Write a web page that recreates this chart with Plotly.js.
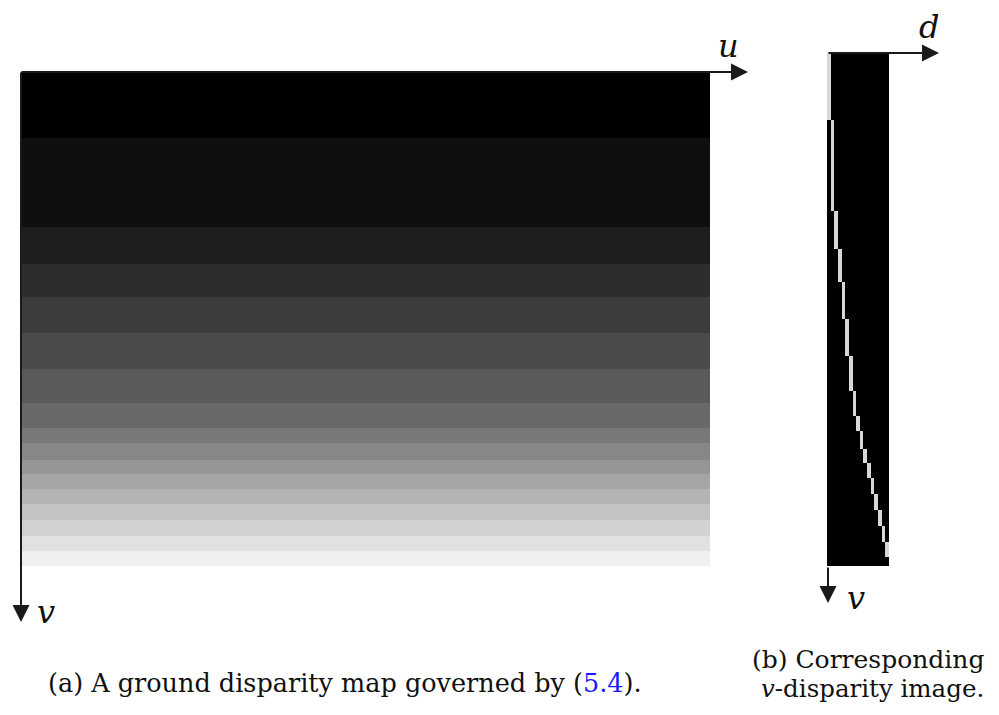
<!DOCTYPE html>
<html>
<head>
<meta charset="utf-8">
<script src="https://cdn.plot.ly/plotly-3.0.1.min.js"></script>
<style>
  html, body { margin: 0; padding: 0; background: #fff; }
  #chart { width: 999px; height: 715px; }
</style>
</head>
<body>
<div id="chart"></div>
<script>
// Ground disparity map: image rows v are split into bands of constant disparity.
// Band edges along v (image rows, top to bottom) and the disparity of each band.
const imageWidth = 689;
const bandEdgesV = [0, 66, 155, 192, 225, 261, 297, 331, 356, 371, 388, 402, 417, 432, 448, 464, 479, 494];
const bandDisparity = [0, 1, 2, 3, 4, 5, 6, 7, 8, 9, 10, 11, 12, 13, 14, 15, 16];
const disparityLevels = [0, 1, 2, 3, 4, 5, 6, 7, 8, 9, 10, 11, 12, 13, 14, 15, 16];

// Disparity map: one column spanning the image width, one row per band.
const mapZ = bandDisparity.map(d => [d]);

// v-disparity: for every row band, count of pixels at each disparity level.
const vdispZ = bandDisparity.map(bd => disparityLevels.map(d => (d === bd ? imageWidth : 0)));

const W = 999, H = 715;
const px = x => x / W;           // page pixel -> paper x
const py = y => 1 - y / H;       // page pixel -> paper y

const ink = '#1a1a1a';
const serif = 'DejaVu Serif';

const traces = [
  {
    type: 'heatmap',
    x: [0, imageWidth],
    y: bandEdgesV,
    z: mapZ,
    zmin: 0, zmax: 16,
    colorscale: [[0, 'rgb(0,0,0)'], [1, 'rgb(240,240,240)']],
    showscale: false,
    xaxis: 'x', yaxis: 'y',
    hoverinfo: 'skip'
  },
  {
    type: 'heatmap',
    x: disparityLevels,
    y: bandEdgesV,
    z: vdispZ,
    zmin: 0, zmax: imageWidth,
    colorscale: [[0, 'rgb(0,0,0)'], [1, 'rgb(215,215,215)']],
    showscale: false,
    xaxis: 'x2', yaxis: 'y2',
    hoverinfo: 'skip'
  }
];

function arrow(tipX, tipY, tailX, tailY) {
  return {
    xref: 'paper', yref: 'paper',
    x: px(tipX), y: py(tipY),
    ax: tailX - tipX, ay: tailY - tipY,
    axref: 'pixel', ayref: 'pixel',
    text: '', showarrow: true,
    arrowhead: 2, arrowsize: 1.7, arrowwidth: 2, arrowcolor: ink,
    standoff: 0, startstandoff: 0
  };
}

function label(text, x, y, size, anchor) {
  return {
    xref: 'paper', yref: 'paper',
    x: px(x), y: py(y),
    xanchor: anchor || 'center', yanchor: 'middle',
    text: text, showarrow: false,
    font: { family: serif, size: size, color: '#111' }
  };
}

const layout = {
  width: W, height: H,
  margin: { l: 0, r: 0, t: 0, b: 0, pad: 0 },
  paper_bgcolor: '#ffffff',
  plot_bgcolor: 'rgba(0,0,0,0)',
  showlegend: false,
  font: { family: serif },
  xaxis: { domain: [px(21), px(710)], range: [0, imageWidth], visible: false, fixedrange: true },
  yaxis: { domain: [py(566), py(72)], range: [494, 0], visible: false, fixedrange: true },
  xaxis2: { domain: [px(827), px(889)], range: [-0.5, 16.5], visible: false, fixedrange: true, anchor: 'y2' },
  yaxis2: { domain: [py(566), py(53)], range: [503, 0], visible: false, fixedrange: true, anchor: 'x2' },
  shapes: [
    { type: 'rect', xref: 'x2 domain', yref: 'y2 domain', x0: 0, x1: 1, y0: 0, y1: 1,
      fillcolor: '#000', line: { width: 0 }, layer: 'below' }
  ],
  annotations: [
    arrow(748, 72, 20, 72),
    arrow(21, 622, 21, 71),
    arrow(939, 53, 827, 53),
    arrow(828, 603, 828, 566),
    label('<i>u</i>', 728, 46, 32),
    label('<i>v</i>', 46, 612, 32),
    label('<i>d</i>', 929, 27, 32),
    label('<i>v</i>', 856, 598, 32),
    label('(a) A ground disparity map governed by (<span style="color:#1a1aff">5.4</span>).', 345, 683, 25.5),
    label('(b) Corresponding', 986, 659, 25, 'right'),
    label('<i>v</i>-disparity image.', 986, 688, 24.5, 'right')
  ]
};

Plotly.newPlot('chart', traces, layout, { staticPlot: true, displayModeBar: false });
</script>
</body>
</html>
